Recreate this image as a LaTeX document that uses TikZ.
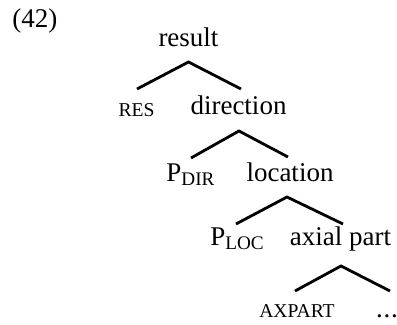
\documentclass[tikz,border=0pt]{standalone}
\usepackage{fontspec}
\setmainfont{Liberation Serif}
\usetikzlibrary{calc}
\newcommand{\smcap}[1]{{\fontsize{9.8}{11}\selectfont #1}}
\newcommand{\subcap}[1]{\raisebox{-2pt}{\fontsize{9.6}{11}\selectfont #1}}
\begin{document}
\begin{tikzpicture}[x=0.5pt,y=-0.5pt,
  lbl/.style={inner sep=0pt, anchor=base, font=\fontsize{13.5}{16}\selectfont},
  branch/.style={line width=1.4pt}]
\useasboundingbox (0,0) rectangle (397,325);
\node[lbl, anchor=base west] (ex) at (12,28) {(42)};
\node[lbl] (result) at (188.5,47) {result};
\node[lbl] (RES) at (136.5,117) {\smcap{RES}};
\node[lbl] (direction) at (238.5,115) {direction};
\node[lbl] (PDIR) at (190.5,182) {P\subcap{DIR}};
\node[lbl] (location) at (290,182) {location};
\node[lbl] (PLOC) at (237,246) {P\subcap{LOC}};
\node[lbl] (axial) at (340.5,246) {axial part};
\node[lbl] (AXPART) at (297,318) {\smcap{AXPART}};
\node[lbl] (dots) at (387,318) {.\kern0.4pt.\kern0.4pt.};
\draw[branch] ($(RES.base)+(0.5,-28)$) -- ($(result.base)+(0,15)$) -- ($(direction.base)+(2.5,-26)$);
\draw[branch] ($(PDIR.base)+(0.5,-24)$) -- ($(direction.base)+(0.5,16)$) -- ($(location.base)+(-2,-25)$);
\draw[branch] ($(PLOC.base)+(-1,-22)$) -- ($(location.base)+(-3,15)$) -- ($(axial.base)+(2.5,-22)$);
\draw[branch] ($(AXPART.base)+(-2,-27)$) -- ($(axial.base)+(0.5,20)$) -- ($(dots.base)+(3,-27)$);
\end{tikzpicture}
\end{document}
